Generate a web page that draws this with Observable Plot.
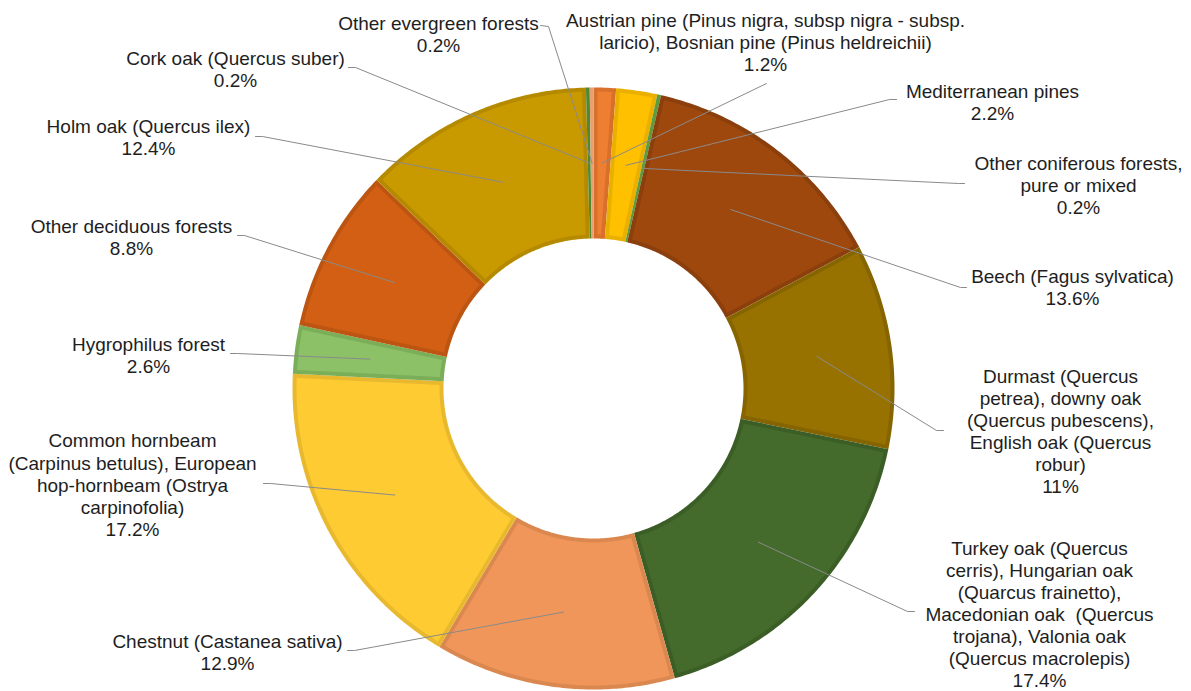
<!DOCTYPE html>
<html>
<head>
<meta charset="utf-8">
<script src="https://cdn.jsdelivr.net/npm/d3@7"></script>
<script src="https://cdn.jsdelivr.net/npm/@observablehq/plot@0.6"></script>
<style>
  html, body { margin: 0; padding: 0; background: #fff; }
  svg text { white-space: pre; }
</style>
</head>
<body>
<div id="chart"></div>
<script>
// ---- Data ----
const categories = [
  "Austrian pine (Pinus nigra, subsp nigra - subsp.\nlaricio), Bosnian pine (Pinus heldreichii)",
  "Mediterranean pines",
  "Other coniferous forests,\npure or mixed",
  "Beech (Fagus sylvatica)",
  "Durmast (Quercus\npetrea), downy oak\n(Quercus pubescens),\nEnglish oak (Quercus\nrobur)",
  "Turkey oak (Quercus\ncerris), Hungarian oak\n(Quarcus frainetto),\nMacedonian oak  (Quercus\ntrojana), Valonia oak\n(Quercus macrolepis)",
  "Chestnut (Castanea sativa)",
  "Common hornbeam\n(Carpinus betulus), European\nhop-hornbeam (Ostrya\ncarpinofolia)",
  "Hygrophilus forest",
  "Other deciduous forests",
  "Holm oak (Quercus ilex)",
  "Cork oak (Quercus suber)",
  "Other evergreen forests"
];
const values = [1.2, 2.2, 0.2, 13.6, 11, 17.4, 12.9, 17.2, 2.6, 8.8, 12.4, 0.2, 0.2];
const percentLabels = ["1.2%", "2.2%", "0.2%", "13.6%", "11%", "17.4%", "12.9%", "17.2%", "2.6%", "8.8%", "12.4%", "0.2%", "0.2%"];

// ---- Styles ----
const fills   = ["#EE7E32", "#FFC000", "#70AD47", "#9E480E", "#977200", "#446A2C", "#F0965A", "#FFCB33", "#8CC168", "#D25F13", "#C99A00", "#4F8A32", "#F2AE80"];
const borders = ["#D8702B", "#EAB000", "#5F9A3C", "#8A3F0C", "#866500", "#3B5D26", "#DA8850", "#E8B92F", "#7AAE58", "#BC5511", "#B68A00", "#4F8A32", "#E5A074"];

// ---- Layout (pixels) ----
const W = 1191, H = 691;
const cx = 593, cy = 388, R = 301, r0 = 150, bw = 4;
// label block centre [x, y]
const labelPos = [
  [765, 41], [992, 101], [1078, 184], [1072, 286.5], [1060, 430.5], [1039, 613.5],
  [227, 651], [132, 484], [148, 354], [131, 236], [148, 136.5], [235, 68.5], [438, 33]
];
// leader end near label [endX, endY, elbowX, elbowY]
const leaderEnd = [
  [766, 83, 766, 83], [896, 99, 889, 99], [964, 183, 958, 183], [966, 287, 960, 287],
  [943, 430, 936, 430], [914, 611, 907, 611], [347, 650, 354, 650], [263, 483, 270, 483],
  [230, 353, 237, 353], [237, 235, 244, 235], [255, 136, 262, 136], [348, 67, 355, 67],
  [540, 25, 548, 26]
];

// ---- Geometry from the data ----
const arcs = d3.pie().sort(null).value(d => d)(values);
const pt = (rad, a) => [cx + rad * Math.sin(a), cy - rad * Math.cos(a)];

function ringPoly(a0, a1, ro, ri, dOut, dIn) {
  const pts = [];
  const o0 = a0 + dOut, o1 = a1 - dOut, i0 = a0 + dIn, i1 = a1 - dIn;
  const n = Math.max(2, Math.ceil((o1 - o0) / 0.01));
  for (let k = 0; k <= n; k++) pts.push(pt(ro, o0 + (o1 - o0) * k / n));
  const m = Math.max(2, Math.ceil((i1 - i0) / 0.01));
  for (let k = 0; k <= m; k++) pts.push(pt(ri, i1 - (i1 - i0) * k / m));
  return pts;
}

const outerPts = [], innerPts = [], leaderPts = [], labels = [];
arcs.forEach((a, i) => {
  ringPoly(a.startAngle, a.endAngle, R, r0, 0, 0)
    .forEach(([x, y]) => outerPts.push({key: i, x, y, fill: borders[i]}));
  const ro = R - bw, ri = r0 + bw;
  const dOut = Math.asin(bw / ro), dIn = Math.asin(bw / ri);
  if (a.endAngle - a.startAngle > 2 * dIn + 0.004) {
    ringPoly(a.startAngle, a.endAngle, ro, ri, dOut, dIn)
      .forEach(([x, y]) => innerPts.push({key: i, x, y, fill: fills[i]}));
  }
  const mid = (a.startAngle + a.endAngle) / 2;
  const [ax, ay] = pt((R + r0) / 2, mid);
  const [ex, ey, bx, by] = leaderEnd[i];
  leaderPts.push({key: i, x: ex, y: ey}, {key: i, x: bx, y: by}, {key: i, x: ax, y: ay});
  labels.push({x: labelPos[i][0], y: labelPos[i][1], text: categories[i] + "\n" + percentLabels[i]});
});

const chart = Plot.plot({
  width: W,
  height: H,
  margin: 0,
  x: {domain: [0, W], range: [0, W], axis: null},
  y: {domain: [0, H], range: [0, H], axis: null},
  color: {type: "identity"},
  style: {background: "#fff", fontFamily: "'Liberation Sans', Arial, sans-serif"},
  marks: [
    Plot.line(outerPts, {x: "x", y: "y", z: "key", fill: "fill", stroke: null, curve: "linear-closed"}),
    Plot.line(innerPts, {x: "x", y: "y", z: "key", fill: "fill", stroke: null, curve: "linear-closed"}),
    Plot.line(leaderPts, {x: "x", y: "y", z: "key", stroke: "#8a8a8a", strokeWidth: 1}),
    Plot.text(labels, {
      x: "x", y: "y", text: "text",
      fontSize: 19, lineHeight: 1.16,
      textAnchor: "middle", lineAnchor: "middle",
      fill: "#1e1e1e"
    })
  ]
});
document.getElementById("chart").appendChild(chart);
</script>
</body>
</html>
